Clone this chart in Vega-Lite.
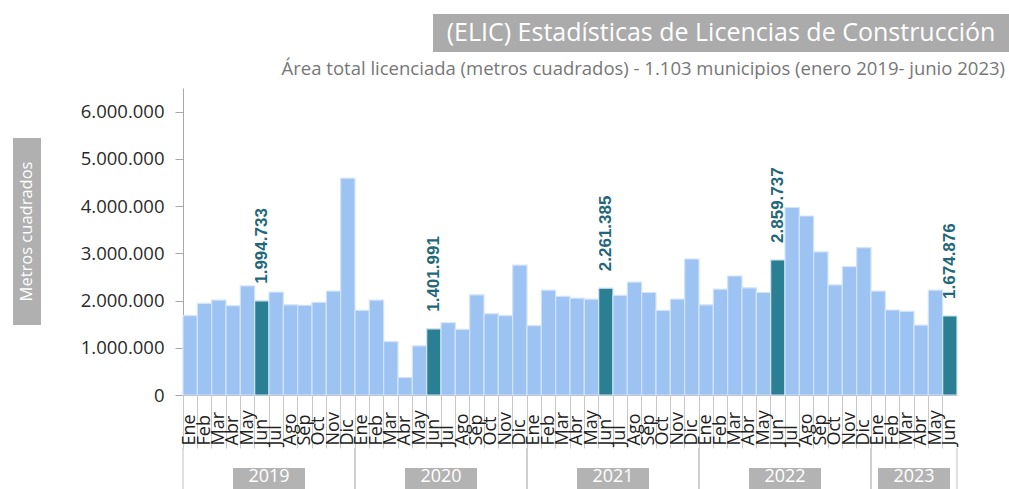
{
  "$schema": "https://vega.github.io/schema/vega-lite/v6.json",
  "padding": {"left": 13, "top": 14, "right": 0, "bottom": 0},
  "background": "white",
  "datasets": {
    "meses": [
      {"periodo": "2019-Ene", "anio": "2019", "mes": "Ene", "valor": 1680000},
      {"periodo": "2019-Feb", "anio": "2019", "mes": "Feb", "valor": 1940000},
      {"periodo": "2019-Mar", "anio": "2019", "mes": "Mar", "valor": 2010000},
      {"periodo": "2019-Abr", "anio": "2019", "mes": "Abr", "valor": 1890000},
      {"periodo": "2019-May", "anio": "2019", "mes": "May", "valor": 2310000},
      {"periodo": "2019-Jun", "anio": "2019", "mes": "Jun", "valor": 1994733},
      {"periodo": "2019-Jul", "anio": "2019", "mes": "Jul", "valor": 2180000},
      {"periodo": "2019-Ago", "anio": "2019", "mes": "Ago", "valor": 1910000},
      {"periodo": "2019-Sep", "anio": "2019", "mes": "Sep", "valor": 1900000},
      {"periodo": "2019-Oct", "anio": "2019", "mes": "Oct", "valor": 1960000},
      {"periodo": "2019-Nov", "anio": "2019", "mes": "Nov", "valor": 2200000},
      {"periodo": "2019-Dic", "anio": "2019", "mes": "Dic", "valor": 4590000},
      {"periodo": "2020-Ene", "anio": "2020", "mes": "Ene", "valor": 1790000},
      {"periodo": "2020-Feb", "anio": "2020", "mes": "Feb", "valor": 2010000},
      {"periodo": "2020-Mar", "anio": "2020", "mes": "Mar", "valor": 1130000},
      {"periodo": "2020-Abr", "anio": "2020", "mes": "Abr", "valor": 370000},
      {"periodo": "2020-May", "anio": "2020", "mes": "May", "valor": 1040000},
      {"periodo": "2020-Jun", "anio": "2020", "mes": "Jun", "valor": 1401991},
      {"periodo": "2020-Jul", "anio": "2020", "mes": "Jul", "valor": 1530000},
      {"periodo": "2020-Ago", "anio": "2020", "mes": "Ago", "valor": 1390000},
      {"periodo": "2020-Sep", "anio": "2020", "mes": "Sep", "valor": 2120000},
      {"periodo": "2020-Oct", "anio": "2020", "mes": "Oct", "valor": 1720000},
      {"periodo": "2020-Nov", "anio": "2020", "mes": "Nov", "valor": 1680000},
      {"periodo": "2020-Dic", "anio": "2020", "mes": "Dic", "valor": 2750000},
      {"periodo": "2021-Ene", "anio": "2021", "mes": "Ene", "valor": 1470000},
      {"periodo": "2021-Feb", "anio": "2021", "mes": "Feb", "valor": 2220000},
      {"periodo": "2021-Mar", "anio": "2021", "mes": "Mar", "valor": 2090000},
      {"periodo": "2021-Abr", "anio": "2021", "mes": "Abr", "valor": 2050000},
      {"periodo": "2021-May", "anio": "2021", "mes": "May", "valor": 2030000},
      {"periodo": "2021-Jun", "anio": "2021", "mes": "Jun", "valor": 2261385},
      {"periodo": "2021-Jul", "anio": "2021", "mes": "Jul", "valor": 2110000},
      {"periodo": "2021-Ago", "anio": "2021", "mes": "Ago", "valor": 2390000},
      {"periodo": "2021-Sep", "anio": "2021", "mes": "Sep", "valor": 2170000},
      {"periodo": "2021-Oct", "anio": "2021", "mes": "Oct", "valor": 1790000},
      {"periodo": "2021-Nov", "anio": "2021", "mes": "Nov", "valor": 2030000},
      {"periodo": "2021-Dic", "anio": "2021", "mes": "Dic", "valor": 2880000},
      {"periodo": "2022-Ene", "anio": "2022", "mes": "Ene", "valor": 1910000},
      {"periodo": "2022-Feb", "anio": "2022", "mes": "Feb", "valor": 2240000},
      {"periodo": "2022-Mar", "anio": "2022", "mes": "Mar", "valor": 2520000},
      {"periodo": "2022-Abr", "anio": "2022", "mes": "Abr", "valor": 2270000},
      {"periodo": "2022-May", "anio": "2022", "mes": "May", "valor": 2170000},
      {"periodo": "2022-Jun", "anio": "2022", "mes": "Jun", "valor": 2859737},
      {"periodo": "2022-Jul", "anio": "2022", "mes": "Jul", "valor": 3970000},
      {"periodo": "2022-Ago", "anio": "2022", "mes": "Ago", "valor": 3790000},
      {"periodo": "2022-Sep", "anio": "2022", "mes": "Sep", "valor": 3030000},
      {"periodo": "2022-Oct", "anio": "2022", "mes": "Oct", "valor": 2330000},
      {"periodo": "2022-Nov", "anio": "2022", "mes": "Nov", "valor": 2720000},
      {"periodo": "2022-Dic", "anio": "2022", "mes": "Dic", "valor": 3120000},
      {"periodo": "2023-Ene", "anio": "2023", "mes": "Ene", "valor": 2200000},
      {"periodo": "2023-Feb", "anio": "2023", "mes": "Feb", "valor": 1800000},
      {"periodo": "2023-Mar", "anio": "2023", "mes": "Mar", "valor": 1770000},
      {"periodo": "2023-Abr", "anio": "2023", "mes": "Abr", "valor": 1480000},
      {"periodo": "2023-May", "anio": "2023", "mes": "May", "valor": 2220000},
      {"periodo": "2023-Jun", "anio": "2023", "mes": "Jun", "valor": 1674876}
    ],
    "limites": [
      {"anio": "2019", "limite": 0}, {"anio": "2019", "limite": 12},
      {"anio": "2020", "limite": 12}, {"anio": "2020", "limite": 24},
      {"anio": "2021", "limite": 24}, {"anio": "2021", "limite": 36},
      {"anio": "2022", "limite": 36}, {"anio": "2022", "limite": 48},
      {"anio": "2023", "limite": 48}, {"anio": "2023", "limite": 54}
    ]
  },
  "vconcat": [
    {
      "hconcat": [
        {
          "width": 420, "height": 38,
          "data": {"values": []},
          "mark": {"type": "point", "opacity": 0},
          "encoding": {}
        },
        {
          "width": 576, "height": 38,
          "view": {"fill": "#ababab", "stroke": null},
          "data": {"values": [{"t": "(ELIC) Estadísticas de Licencias de Construcción"}]},
          "mark": {"type": "text", "color": "white", "font": "Open Sans", "fontSize": 25, "align": "center", "baseline": "middle"},
          "encoding": {"text": {"field": "t", "type": "nominal"}},
          "title": {
            "text": "Área total licenciada (metros cuadrados) - 1.103 municipios (enero 2019- junio 2023)",
            "orient": "bottom", "anchor": "end", "offset": 8, "dx": -4,
            "font": "Open Sans", "fontSize": 18.5, "fontWeight": "normal", "color": "#777777"
          }
        }
      ],
      "spacing": 0,
      "bounds": "flush"
    },
    {
      "hconcat": [
        {
          "width": 28, "height": 287,
          "data": {"values": [{"t": "Metros cuadrados"}]},
          "layer": [
            {"mark": {"type": "tick", "orient": "vertical", "thickness": 28, "size": 187, "color": "#b0b0b0", "opacity": 1}, "encoding": {}},
            {"mark": {"type": "text", "angle": 270, "color": "white", "font": "Open Sans", "fontSize": 16.5, "align": "center", "baseline": "middle"},
             "encoding": {"text": {"field": "t", "type": "nominal"}}}
          ]
        },
        {
          "vconcat": [
            {
              "width": 774, "height": 307,
              "data": {"name": "meses"},
              "encoding": {
                "x": {"field": "periodo", "type": "ordinal", "sort": null,
                  "scale": {"paddingInner": 0, "paddingOuter": 0},
                  "axis": {"title": null, "labelExpr": "split(datum.value, '-')[1]", "labelAngle": 270, "labelAlign": "left", "labelBaseline": "middle",
                    "labelPadding": -3, "tickSize": 53, "bandPosition": 0, "tickColor": "#c8c8c8", "domainColor": "#a8a8a8",
                    "labelFont": "Open Sans", "labelFontSize": 18, "labelColor": "#222222", "labelOverlap": false, "labelBound": false, "labelFlush": false}},
                "y": {"field": "valor", "type": "quantitative",
                  "scale": {"domain": [0, 6500000], "nice": false},
                  "axis": {"title": null, "values": [0, 1000000, 2000000, 3000000, 4000000, 5000000, 6000000], "format": ",.0f",
                    "grid": false, "tickSize": 8, "tickColor": "#a8a8a8", "domainColor": "#a8a8a8", "labelPadding": 11,
                    "labelFont": "Open Sans", "labelFontSize": 18.5, "labelColor": "#2a2a2a", "labelOverlap": false}}
              },
              "layer": [
                {
                  "mark": {"type": "bar", "stroke": "#d3e4f9", "strokeWidth": 1.2},
                  "encoding": {
                    "color": {"condition": {"test": "datum.mes === 'Jun'", "value": "#2a7f92"}, "value": "#9cc3f2"}
                  }
                },
                {
                  "transform": [{"filter": "datum.mes === 'Jun'"}],
                  "mark": {"type": "text", "angle": 270, "align": "left", "baseline": "middle", "dx": 17,
                    "font": "Liberation Sans", "fontWeight": "bold", "fontSize": 17, "color": "#1f6878"},
                  "encoding": {"text": {"field": "valor", "type": "quantitative", "format": ",.0f"}}
                }
              ]
            },
            {
              "width": 774, "height": 41,
              "data": {"name": "limites"},
              "layer": [
                {
                  "mark": {"type": "rule", "color": "#c0c0c0", "strokeWidth": 1},
                  "encoding": {"x": {"field": "limite", "type": "quantitative", "scale": {"domain": [0, 54], "nice": false, "zero": false}, "axis": null}}
                },
                {
                  "mark": {"type": "tick", "orient": "vertical", "thickness": 72, "size": 21, "yOffset": 10, "color": "#b3b3b3", "opacity": 1},
                  "encoding": {
                    "x": {"aggregate": "mean", "field": "limite", "type": "quantitative"},
                    "detail": {"field": "anio", "type": "nominal"}
                  }
                },
                {
                  "mark": {"type": "text", "color": "white", "font": "Open Sans", "fontSize": 18, "baseline": "middle", "align": "center", "dy": 8},
                  "encoding": {
                    "x": {"aggregate": "mean", "field": "limite", "type": "quantitative"},
                    "text": {"field": "anio", "type": "nominal"}
                  }
                }
              ]
            }
          ],
          "spacing": 53,
          "bounds": "flush"
        }
      ],
      "spacing": 142,
      "bounds": "flush"
    }
  ],
  "spacing": 74,
  "bounds": "flush",
  "config": {
    "view": {"stroke": null},
    "font": "Open Sans",
    "locale": {"number": {"decimal": ",", "thousands": ".", "grouping": [3], "currency": ["$", ""]}}
  }
}
